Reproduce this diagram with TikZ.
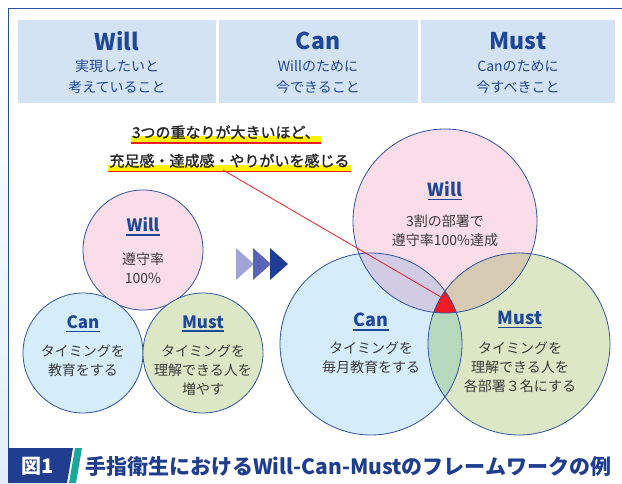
\documentclass[tikz,border=0pt]{standalone}
\usepackage{fontspec}
\setmainfont{Noto Sans CJK JP}
\newfontfamily\medfont{Noto Sans CJK JP}[FakeBold=1.5]
\usetikzlibrary{calc}
\definecolor{frameblue}{HTML}{2A4FA5}
\definecolor{hdrbg}{HTML}{D3E3F3}
\definecolor{tblue}{HTML}{1E4799}
\definecolor{cstroke}{HTML}{2F55A4}
\definecolor{cwill}{HTML}{FADDE8}
\definecolor{ccan}{HTML}{D5ECFA}
\definecolor{cmust}{HTML}{DCE8C5}
\definecolor{cwc}{HTML}{D1CCE3}
\definecolor{cwm}{HTML}{D6CBB2}
\definecolor{ccm}{HTML}{B6D8BD}
\definecolor{cred}{HTML}{EE1C25}
\definecolor{bodytxt}{HTML}{3C3C3C}
\definecolor{hly}{HTML}{FFF200}
\definecolor{arA}{HTML}{A0A4D6}
\definecolor{arB}{HTML}{5B64B5}
\definecolor{arC}{HTML}{1F3E96}
\definecolor{dblue}{HTML}{1F3E8F}
\definecolor{teal}{HTML}{1AA89A}
\definecolor{leftbg}{HTML}{E3EEF9}
\pgfdeclarelayer{bg}
\pgfsetlayers{bg,main}
\tikzset{
  hdrbox/.style={fill=hdrbg},
  hdrtitle/.style={text=tblue, font=\bfseries\fontsize{23}{23}\selectfont, inner sep=0pt},
  hdrsub/.style={text=tblue, font=\fontsize{14}{21}\selectfont, align=center, inner sep=0pt},
  circ/.style={draw=cstroke, line width=0.8pt},
  ctitle/.style={text=tblue, font=\bfseries\fontsize{18}{18}\selectfont, inner sep=0pt},
  ctitleS/.style={text=tblue, font=\bfseries\fontsize{17}{17}\selectfont, inner sep=0pt},
  cbody/.style={text=bodytxt, font=\fontsize{14}{19}\selectfont, align=center, inner sep=0pt},
  ulline/.style={draw=tblue, line width=1.6pt},
  annot/.style={text=black!85, font=\medfont\fontsize{15}{15}\selectfont, inner sep=0pt, anchor=base},
  hlfill/.style={fill=hly},
  redul/.style={draw=cred, line width=1.2pt},
  pointer/.style={draw=cred, line width=0.8pt},
}
\begin{document}
\begin{tikzpicture}[x=1pt,y=-1pt]
\useasboundingbox (0,0) rectangle (622,483);
% left background strip
\shade[top color=white, bottom color=leftbg] (0,0) rectangle (8,483);
% frame
\draw[frameblue, line width=1.5pt] (8.7,483) -- (8.7,8.5) -- (622,8.5);
% header boxes
\fill[hdrbox] (18,20) rectangle (216,103);
\fill[hdrbox] (219,20) rectangle (418,103);
\fill[hdrbox] (421,20) rectangle (615,103);
\node[hdrtitle] (h1) at (117,41) {Will};
\node[hdrtitle] (h2) at (318,41) {Can};
\node[hdrtitle] (h3) at (518,41) {Must};
\node[hdrsub] (s1) at (117,77) {実現したいと\\考えていること};
\node[hdrsub] (s2) at (318,77) {Willのために\\今できること};
\node[hdrsub] (s3) at (518,77) {Canのために\\今すべきこと};

% annotation
\node[annot] (a1) at (226,138) {3つの重なりが大きいほど、};
\node[annot] (a2) at (229.5,166.5) {充足感・達成感・やりがいを感じる};
\begin{pgfonlayer}{bg}
\fill[hlfill] ([xshift=-1pt,yshift=2pt]a1.base west) rectangle ([xshift=1pt,yshift=-5pt]a1.base east);
\fill[hlfill] ([xshift=-1pt,yshift=2pt]a2.base west) rectangle ([xshift=1pt,yshift=-5pt]a2.base east);
\end{pgfonlayer}
\draw[redul] ([xshift=-1pt,yshift=-5pt]a1.base west) -- ([xshift=1pt,yshift=-5pt]a1.base east);
\draw[redul] ([xshift=-1pt,yshift=-5pt]a2.base west) -- ([xshift=1pt,yshift=-5pt]a2.base east);

% left circles
\coordinate (LW) at (143,250);
\coordinate (LC) at (83,353);
\coordinate (LM) at (203,353);
\filldraw[circ, fill=cwill] (LW) circle (60);
\filldraw[circ, fill=ccan] (LC) circle (60);
\filldraw[circ, fill=cmust] (LM) circle (60);
\node[ctitleS] (lwt) at (143,225) {Will};
\draw[ulline] ([yshift=-3pt]lwt.base west) -- ([yshift=-3pt]lwt.base east);
\node[cbody] (lwb) at (143,268) {遵守率\\100\%};
\node[ctitleS] (lct) at (83,322) {Can};
\draw[ulline] ([yshift=-3pt]lct.base west) -- ([yshift=-3pt]lct.base east);
\node[cbody] (lcb) at (83,361) {タイミングを\\教育をする};
\node[ctitleS] (lmt) at (203,322) {Must};
\draw[ulline] ([yshift=-3pt]lmt.base west) -- ([yshift=-3pt]lmt.base east);
\node[cbody] (lmb) at (203,370.5) {タイミングを\\理解できる人を\\増やす};

% arrows
\fill[arA] (236,248) -- (254,264) -- (236,280) -- cycle;
\fill[arB] (253,248) -- (271,264) -- (253,280) -- cycle;
\fill[arC] (270,248) -- (288,264) -- (270,280) -- cycle;

% right Venn
\coordinate (RW) at (445,221);
\coordinate (RC) at (371,344);
\coordinate (RM) at (519,344);
\fill[cwill] (RW) circle (92);
\fill[ccan] (RC) circle (91);
\fill[cmust] (RM) circle (91);
\begin{scope}
  \clip (RW) circle (92);
  \fill[cwc] (RC) circle (91);
  \fill[cwm] (RM) circle (91);
\end{scope}
\begin{scope}
  \clip (RC) circle (91);
  \fill[ccm] (RM) circle (91);
\end{scope}
\begin{scope}
  \clip (RW) circle (92);
  \clip (RC) circle (91);
  \fill[cred] (RM) circle (91);
\end{scope}
\draw[circ] (RW) circle (92);
\draw[circ] (RC) circle (91);
\draw[circ] (RM) circle (91);

\node[ctitle] (rwt) at (445,189) {Will};
\draw[ulline] ([yshift=-3pt]rwt.base west) -- ([yshift=-3pt]rwt.base east);
\node[cbody] (rwb) at (445,231) {3割の部署で\\遵守率100\%達成};
\node[ctitle] (rct) at (371,320) {Can};
\draw[ulline] ([yshift=-3pt]rct.base west) -- ([yshift=-3pt]rct.base east);
\node[cbody] (rcb) at (371,358) {タイミングを\\毎月教育をする};
\node[ctitle] (rmt) at (520,318) {Must};
\draw[ulline] ([yshift=-3pt]rmt.base west) -- ([yshift=-3pt]rmt.base east);
\node[cbody] (rmb) at (520,367.5) {タイミングを\\理解できる人を\\各部署３名にする};

% pointer line
\coordinate (ps) at (223,170);
\coordinate (pe) at (441,297);
\draw[pointer] (ps) -- (pe);

% title bar
\fill[white] (9.5,447) rectangle (622,483);
\fill[dblue] (8,448) -- (73,448) -- (67,483) -- (8,483) -- cycle;
\fill[teal] (75,448) -- (82,448) -- (76,483) -- (69,483) -- cycle;
\node[text=white, font=\bfseries\fontsize{20}{20}\selectfont, inner sep=0pt] (fig) at (38,466) {図1};
\node[text=dblue, font=\bfseries\fontsize{21}{21}\selectfont, inner sep=0pt, anchor=west] (ttl) at (85,466) {手指衛生におけるWill-Can-Mustのフレームワークの例};
\end{tikzpicture}
\end{document}
